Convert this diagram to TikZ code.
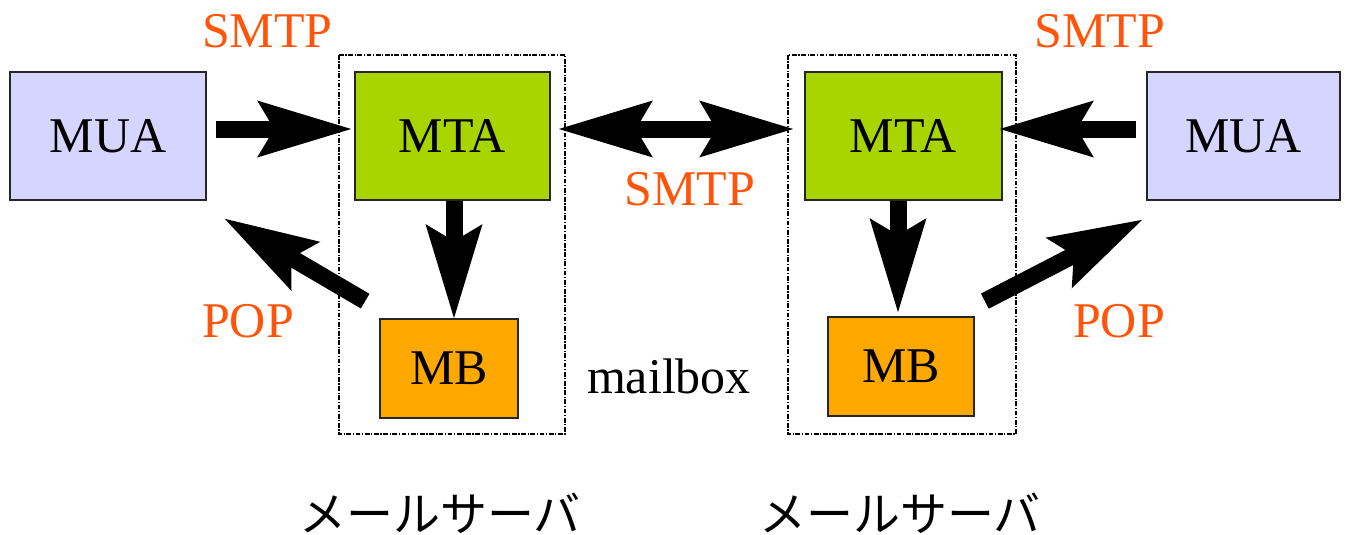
\documentclass[tikz,border=0pt]{standalone}
\usepackage{fontspec}
\setmainfont{Liberation Serif}
\newfontfamily\jpfont{Noto Sans CJK JP}
\usetikzlibrary{arrows.meta}
\definecolor{muafill}{RGB}{213,213,255}
\definecolor{mtafill}{RGB}{168,212,0}
\definecolor{mbfill}{RGB}{255,168,0}
\definecolor{proto}{RGB}{255,85,10}
\tikzset{
  box/.style={draw=black!85, line width=1.7pt, inner sep=0pt,
    font=\fontsize{50}{56}\selectfont},
  muabox/.style={box, fill=muafill, minimum height=128pt},
  mtabox/.style={box, fill=mtafill, minimum height=128pt},
  mbbox/.style={box, fill=mbfill, minimum height=99pt},
  proto/.style={text=proto, inner sep=0pt, font=\fontsize{50}{56}\selectfont},
  plain/.style={inner sep=0pt, font=\fontsize{50}{56}\selectfont},
  jplabel/.style={inner sep=0pt, font=\jpfont\fontsize{47}{52}\selectfont},
  frame/.style={draw=black, line width=1.9pt,
    dash pattern=on 4.8pt off 1.6pt on 1.2pt off 1.6pt},
  fat/.style={line width=17pt, -{Stealth[length=94pt, width=57pt, inset=17pt, line width=0pt]}},
  fatboth/.style={line width=17pt,
    {Stealth[length=94pt, width=57pt, inset=17pt, line width=0pt]}-{Stealth[length=94pt, width=57pt, inset=17pt, line width=0pt]}},
}
\begin{document}
\begin{tikzpicture}[x=1pt, y=-1pt]
\useasboundingbox (0,0) rectangle (1345,535);

% mail server frames
\draw[frame] (339,55) rectangle (565,434);
\draw[frame] (788,55) rectangle (1016,434);

% boxes
\node[muabox, minimum width=196pt] (mua1) at (108,136) {MUA};
\node[mtabox, minimum width=195pt] (mta1) at (452.5,136) {MTA};
\node[mbbox, minimum width=138pt] (mb1) at (449,368.5) {MB};
\node[mtabox, minimum width=197pt] (mta2) at (903.5,136) {MTA};
\node[mbbox, minimum width=146pt] (mb2) at (901,366.5) {MB};
\node[muabox, minimum width=193pt] (mua2) at (1243.5,136) {MUA};

% protocol labels
\node[proto] (smtp1) at (267.5,31) {SMTP};
\node[proto] (smtp2) at (690,189) {SMTP};
\node[proto] (smtp3) at (1100,31) {SMTP};
\node[proto] (pop1) at (248,321) {POP};
\node[proto] (pop2) at (1119,321) {POP};
\node[plain] (mailbox) at (669,376) {mailbox};
\node[jplabel] (srv1) at (440,513) {メールサーバ};
\node[jplabel] (srv2) at (900,513) {メールサーバ};

% connectors
\draw[fat] ([xshift=9pt,yshift=7pt]mua1.east) -- ([xshift=-3pt,yshift=7pt]mta1.west);
\draw[fatboth] ([xshift=8pt,yshift=7pt]mta1.east) -- ([xshift=-11pt,yshift=7pt]mta2.west);
\draw[fat] ([xshift=-10pt,yshift=7pt]mua2.west) -- ([xshift=-3pt,yshift=7pt]mta2.east);
\draw[fat] ([xshift=1.5pt]mta1.south) -- ([xshift=1.5pt]mta1.south |- mb1.north) ;
\draw[fat] ([xshift=-5.5pt]mta2.south) -- ([xshift=-5.5pt,yshift=4pt]mta2.south |- mb2.north);
\draw[fat] ([xshift=-14pt,yshift=17pt]mb1.north west) -- ([xshift=18pt,yshift=-18pt]mua1.south east);
\draw[fat] ([xshift=10pt,yshift=15pt]mb2.north east) -- ([xshift=-4pt,yshift=-19pt]mua2.south west);
\end{tikzpicture}
\end{document}
